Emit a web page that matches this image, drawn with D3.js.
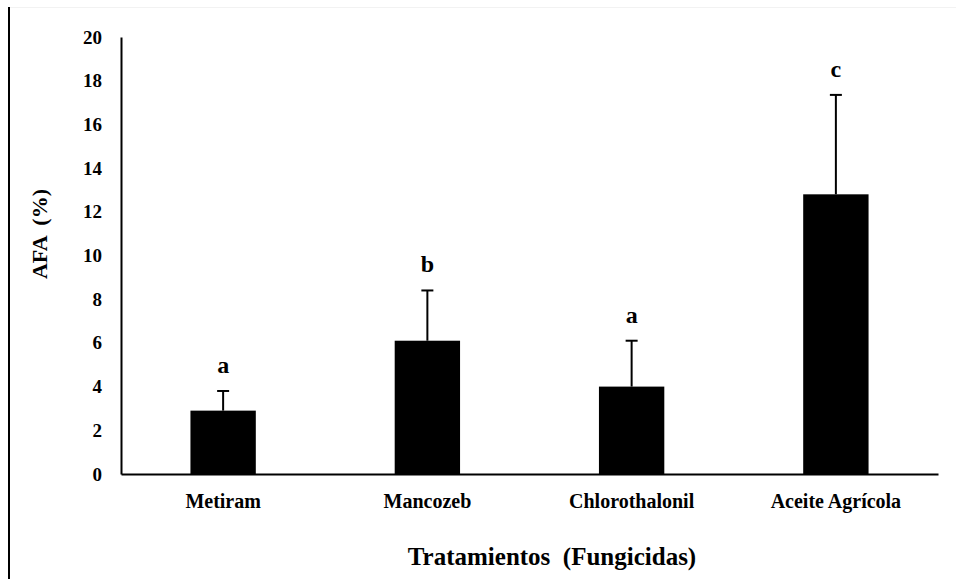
<!DOCTYPE html>
<html>
<head><meta charset="utf-8"></head>
<body style="margin:0">
<script src="https://cdnjs.cloudflare.com/ajax/libs/d3/7.8.5/d3.min.js"></script>
<script>
var w = 956; // page width
var h = 579; // page height

// data
var tratamientos = ["Metiram", "Mancozeb", "Chlorothalonil", "Aceite Agrícola"];
var afa = [2.9, 6.1, 4.0, 12.8];          // mean AFA (%)
var error = [0.9, 2.3, 2.1, 4.55];        // upper error bar
var letras = ["a", "b", "a", "c"];        // significance groups
var yTicks = [0, 2, 4, 6, 8, 10, 12, 14, 16, 18, 20];

var svg = d3.select("body").append("svg")
  .attr("width", w)
  .attr("height", h);

// faint frame on top, black line on the left (as in the source image)
svg.append("line")
  .attr("x1", 9).attr("x2", w).attr("y1", 7.5).attr("y2", 7.5)
  .attr("stroke", "#f2f2f2").attr("stroke-width", 1);
svg.append("line")
  .attr("x1", 9).attr("x2", 9).attr("y1", 7).attr("y2", h)
  .attr("stroke", "#000").attr("stroke-width", 2);

var x = d3.scaleBand()
  .domain(tratamientos)
  .range([121, 938])
  .paddingInner(0.68)
  .paddingOuter(0.34);

var y = d3.scaleLinear()
  .domain([0, 20])
  .range([474, 37]);

// y axis
var yAxis = svg.append("g")
  .attr("transform", "translate(121,0)")
  .call(d3.axisLeft(y).tickValues(yTicks).tickSize(0).tickPadding(19))
  .attr("font-family", "Liberation Serif")
  .attr("font-size", 19)
  .attr("font-weight", "bold");
yAxis.select(".domain").attr("stroke", "#000").attr("stroke-width", 2);

// x axis
var xAxis = svg.append("g")
  .attr("transform", "translate(0,474)")
  .call(d3.axisBottom(x).tickSize(0).tickPadding(20))
  .attr("font-family", "Liberation Serif")
  .attr("font-size", 20)
  .attr("font-weight", "bold");
xAxis.select(".domain").attr("stroke", "#000").attr("stroke-width", 2);

// bars
svg.selectAll("rect.bar")
  .data(afa)
  .enter()
  .append("rect")
  .attr("class", "bar")
  .attr("x", function(d, i) { return x(tratamientos[i]); })
  .attr("y", function(d) { return y(d); })
  .attr("width", x.bandwidth())
  .attr("height", function(d) { return y(0) - y(d); })
  .attr("fill", "#000");

// error bars (upper only)
var eb = svg.selectAll("g.err")
  .data(afa)
  .enter()
  .append("g")
  .attr("class", "err");
eb.append("line")
  .attr("x1", function(d, i) { return x(tratamientos[i]) + x.bandwidth() / 2; })
  .attr("x2", function(d, i) { return x(tratamientos[i]) + x.bandwidth() / 2; })
  .attr("y1", function(d) { return y(d); })
  .attr("y2", function(d, i) { return y(d + error[i]); })
  .attr("stroke", "#000").attr("stroke-width", 2);
eb.append("line")
  .attr("x1", function(d, i) { return x(tratamientos[i]) + x.bandwidth() / 2 - 6; })
  .attr("x2", function(d, i) { return x(tratamientos[i]) + x.bandwidth() / 2 + 6; })
  .attr("y1", function(d, i) { return y(d + error[i]); })
  .attr("y2", function(d, i) { return y(d + error[i]); })
  .attr("stroke", "#000").attr("stroke-width", 2);

// letters above the error bars
svg.selectAll("text.letra")
  .data(afa)
  .enter()
  .append("text")
  .attr("class", "letra")
  .attr("text-anchor", "middle")
  .attr("x", function(d, i) { return x(tratamientos[i]) + x.bandwidth() / 2; })
  .attr("y", function(d, i) { return y(d + error[i]) - 18; })
  .attr("font-family", "Liberation Serif")
  .attr("font-size", 24)
  .attr("font-weight", "bold")
  .text(function(d, i) { return letras[i]; });

// axis titles
svg.append("text")
  .attr("text-anchor", "middle")
  .attr("x", 552).attr("y", 565)
  .attr("font-family", "Liberation Serif")
  .attr("font-size", 25)
  .attr("font-weight", "bold")
  .style("white-space", "pre")
  .text("Tratamientos  (Fungicidas)");

svg.append("text")
  .attr("text-anchor", "middle")
  .attr("transform", "translate(47,234) rotate(-90)")
  .attr("font-family", "Liberation Serif")
  .attr("font-size", 22)
  .attr("font-weight", "bold")
  .style("white-space", "pre")
  .text("AFA  (%)");
</script>
</body>
</html>
